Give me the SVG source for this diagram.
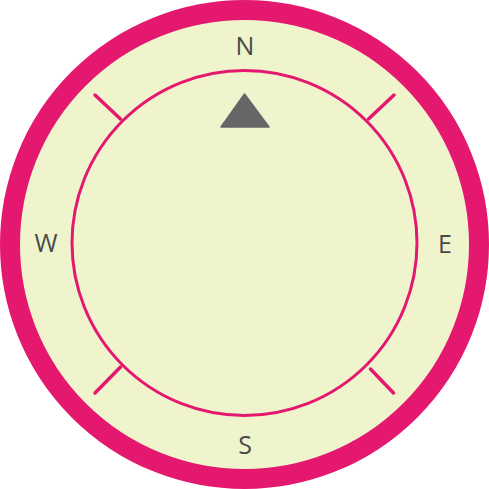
<svg xmlns="http://www.w3.org/2000/svg" width="489" height="489" viewBox="0 0 489 489">
<style>
.lbl{font-family:"Open Sans","Noto Sans",sans-serif;font-size:25px;font-weight:500;fill:#4a4a4a;text-anchor:middle}
.tick{stroke:#e5186f;stroke-width:3.5;stroke-linecap:round}
</style>
<rect width="489" height="489" fill="#fff"/>
<g id="outer">
<circle cx="244.5" cy="244.5" r="234.5" fill="#f0f4cd" stroke="#e5186f" stroke-width="20"/>
</g>
<g id="inner">
<circle cx="244.5" cy="243" r="172.5" fill="none" stroke="#e5186f" stroke-width="3"/>
</g>
<g id="ticks">
<line class="tick" x1="120.5" y1="119" x2="95" y2="95"/>
<line class="tick" x1="368.5" y1="119" x2="394" y2="95"/>
<line class="tick" x1="120.5" y1="367" x2="95" y2="393"/>
<line class="tick" x1="370.5" y1="369" x2="393.5" y2="393"/>
</g>
<g id="arrow">
<polygon points="244.5,94 221,127 269,127" fill="#666" stroke="#666" stroke-width="1.5" stroke-linejoin="round"/>
</g>
<g id="labels">
<text class="lbl" x="245" y="55">N</text>
<text class="lbl" x="46" y="252">W</text>
<text class="lbl" x="445" y="253">E</text>
<text class="lbl" x="245" y="454">S</text>
</g>
</svg>
